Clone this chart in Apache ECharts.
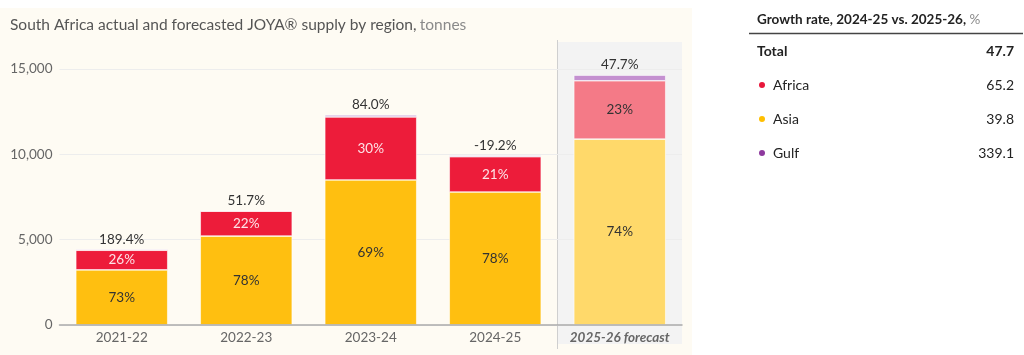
<!DOCTYPE html>
<html>
<head>
<meta charset="utf-8">
<script src="https://cdn.jsdelivr.net/npm/echarts@6/dist/echarts.min.js"></script>
<style>html,body{margin:0;padding:0;background:#fff}#c{width:1024px;height:355px}</style>
</head>
<body>
<div id="c"></div>
<script>
var categories = ['2021-22', '2022-23', '2023-24', '2024-25', '2025-26 forecast'];
var asia   = [3230, 5210, 8500, 7790, 10890];
var africa = [1150, 1460, 3690, 2070, 3420];
var gulf   = [40, 18, 120, 76, 334];
var growthLabels = ['189.4%', '51.7%', '84.0%', '-19.2%', '47.7%'];
var yTicks = [0, 5000, 10000, 15000];
var tableTitle = 'Growth rate, 2024-25 vs. 2025-26, ';
var tableLabels = ['Total', 'Africa', 'Asia', 'Gulf'];
var tableValues = ['47.7', '65.2', '39.8', '339.1'];
var tableDotColors = [null, '#E8173B', '#FFBF00', '#8E3A9E'];

var forecastIndex = 4;
var colors = {
  asia: ['#FFBF10', '#FFD96A'],
  africa: ['#ED1C3A', '#F47A87'],
  gulf: ['#C69DD6', '#C490D0']
};
var FONT = 'Lato, "Noto Sans", sans-serif';

function totals(i) { return asia[i] + africa[i] + gulf[i]; }
function build(arr, key) {
  return arr.map(function (v, i) {
    return { value: v, itemStyle: { color: colors[key][i === forecastIndex ? 1 : 0] } };
  });
}
function pct(arr) {
  return function (p) { return Math.round(arr[p.dataIndex] / totals(p.dataIndex) * 100) + '%'; };
}

var chart = echarts.init(document.getElementById('c'));
var option = {
  backgroundColor: '#ffffff',
  animation: false,
  textStyle: { fontFamily: FONT },
  grid: { left: 59.5, right: 342, top: 69, bottom: 30 },
  xAxis: {
    type: 'category',
    data: categories.map(function (c, i) {
      return i === forecastIndex ? { value: c, textStyle: { fontWeight: 'bold', fontStyle: 'italic' } } : c;
    }),
    axisLine: { lineStyle: { color: '#AAAAAA', width: 1.5 } },
    axisTick: { show: false },
    axisLabel: { interval: 0, color: '#666', fontSize: 13.5, margin: 6, fontFamily: FONT },
    z: 5
  },
  yAxis: {
    type: 'value', min: 0, max: yTicks[yTicks.length - 1], interval: 5000,
    axisLine: { show: false }, axisTick: { show: false },
    axisLabel: {
      color: '#666', fontSize: 13.5, margin: 7, fontFamily: FONT,
      formatter: function (v) { return v.toLocaleString('en-US'); }
    },
    splitLine: { lineStyle: { color: '#EDEDED', width: 1 } }
  },
  series: [
    {
      name: 'Asia', type: 'bar', stack: 's', barWidth: 92, data: build(asia, 'asia'),
      itemStyle: { borderColor: '#ffffff', borderWidth: 0.6 },
      label: { show: true, position: 'inside', color: '#333', fontSize: 13.5, formatter: pct(asia), fontFamily: FONT }
    },
    {
      name: 'Africa', type: 'bar', stack: 's', barWidth: 92,
      data: africa.map(function (v, i) {
        return {
          value: v,
          itemStyle: { color: colors.africa[i === forecastIndex ? 1 : 0] },
          label: { color: i === forecastIndex ? '#333' : '#FDE3E7' }
        };
      }),
      itemStyle: { borderColor: '#ffffff', borderWidth: 0.6 },
      label: { show: true, position: 'inside', fontSize: 13.5, formatter: pct(africa), fontFamily: FONT }
    },
    {
      name: 'Gulf', type: 'bar', stack: 's', barWidth: 92, data: build(gulf, 'gulf'),
      itemStyle: { borderColor: '#ffffff', borderWidth: 0.6 },
      label: {
        show: true, position: 'top', distance: 3, color: '#333', fontSize: 13.5, fontFamily: FONT,
        formatter: function (p) { return growthLabels[p.dataIndex]; }
      }
    }
  ]
};
chart.setOption(option);

// decoration panels positioned via the library's scales
var c3 = chart.convertToPixel({ xAxisIndex: 0 }, 3);
var c4 = chart.convertToPixel({ xAxisIndex: 0 }, 4);
var edge = (c3 + c4) / 2;
var rightEdge = c4 + (c4 - c3) / 2;

var graphics = [
  { type: 'rect', z: -20, silent: true, shape: { x: 0, y: 8, width: 692, height: 347 }, style: { fill: '#FEFBF3' } },
  { type: 'rect', z: -19, silent: true, shape: { x: edge, y: 42, width: rightEdge - edge, height: 302 }, style: { fill: '#F3F3F3' } },
  { type: 'line', z: -18, silent: true, shape: { x1: edge, y1: 40, x2: edge, y2: 349 }, style: { stroke: '#CFCFCF', lineWidth: 1 } },
  {
    type: 'text', left: 10, top: 17, silent: true,
    style: {
      text: '{a|South Africa actual and forecasted JOYA® supply by region,} {b|tonnes}',
      rich: {
        a: { fill: '#555', fontSize: 15.5, fontFamily: FONT },
        b: { fill: '#8A8A8A', fontSize: 15.5, fontFamily: FONT }
      }
    }
  },
  {
    type: 'text', left: 757, top: 13, silent: true,
    style: {
      text: '{a|' + tableTitle + '}{b|%}',
      rich: {
        a: { fill: '#222', fontSize: 13.5, fontWeight: 'bold', fontFamily: FONT },
        b: { fill: '#8A8A8A', fontSize: 13.5, fontFamily: FONT }
      }
    }
  },
  { type: 'line', silent: true, shape: { x1: 749, y1: 33.5, x2: 1023, y2: 33.5 }, style: { stroke: '#444', lineWidth: 1.5 } }
];
tableLabels.forEach(function (lab, i) {
  var y = 51 + i * 34;
  var bold = i === 0;
  if (tableDotColors[i]) {
    graphics.push({ type: 'circle', silent: true, shape: { cx: 762, cy: y, r: 3 }, style: { fill: tableDotColors[i] } });
  }
  graphics.push({
    type: 'text', silent: true, x: bold ? 757 : 773, y: y,
    style: { text: lab, fill: '#222', fontSize: 14, fontWeight: bold ? 'bold' : 'normal', fontFamily: FONT, verticalAlign: 'middle', align: 'left' }
  });
  graphics.push({
    type: 'text', silent: true, x: 1014, y: y,
    style: { text: tableValues[i], fill: '#222', fontSize: 14, fontWeight: bold ? 'bold' : 'normal', fontFamily: FONT, verticalAlign: 'middle', align: 'right' }
  });
});
chart.setOption({ graphic: graphics });
</script>
</body>
</html>
